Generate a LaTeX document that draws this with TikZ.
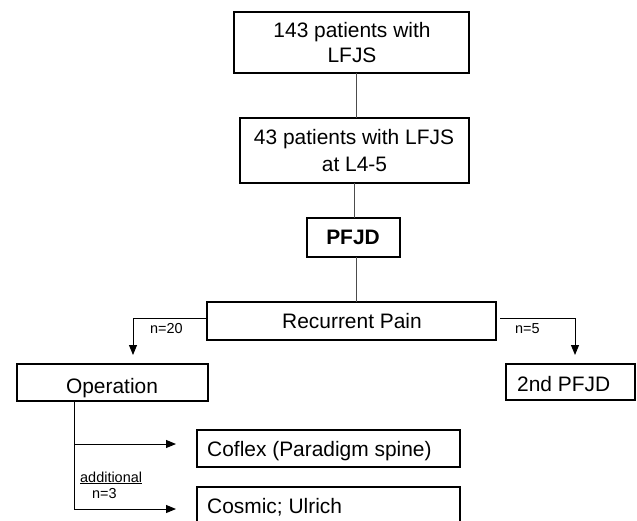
\documentclass[tikz,border=0pt]{standalone}
\usepackage{fontspec}
\setmainfont{Liberation Sans}
\usetikzlibrary{arrows.meta}
\begin{document}
\begin{tikzpicture}[x=1bp,y=-1bp]
\tikzset{
 boxst/.style={draw, line width=2.3bp, inner sep=0pt, outer sep=0pt},
 big/.style={font=\fontsize{21}{25}\selectfont, inner sep=0pt},
 bigb/.style={font=\fontsize{21}{25}\selectfont\bfseries, inner sep=0pt},
 small/.style={font=\fontsize{14.5}{17}\selectfont, inner sep=0pt},
 conn/.style={line width=1bp, draw=black!70},
 arr/.style={line width=1bp, -{Triangle[length=10bp,width=8bp]}},
}
\useasboundingbox (0,0) rectangle (637,521);
\clip (0,0) rectangle (637,521);
% boxes
\node[boxst, minimum width=235bp, minimum height=61bp] (b1) at (351.5,42.5) {};
\node[boxst, minimum width=229bp, minimum height=65bp] (b2) at (354.5,150.5) {};
\node[boxst, minimum width=93bp, minimum height=39bp] (pf) at (353.5,237.5) {};
\node[boxst, minimum width=289bp, minimum height=38bp] (rp) at (351.5,321) {};
\node[boxst, minimum width=191bp, minimum height=37bp] (op) at (112.5,382.5) {};
\node[boxst, minimum width=129bp, minimum height=36bp] (p2) at (570.5,382) {};
\node[boxst, minimum width=263bp, minimum height=37bp] (cf) at (328.5,448.5) {};
\node[boxst, minimum width=263bp, minimum height=37bp] (cs) at (328.5,505.5) {};
% texts
\node[big, anchor=base] (t1a) at (352,38) {143 patients with};
\node[big, anchor=base] (t1b) at (352,63) {LFJS};
\node[big, anchor=base] (t2a) at (354,145) {43 patients with LFJS};
\node[big, anchor=base] (t2b) at (354.5,172) {at L4-5};
\node[bigb, anchor=base] (tpf) at (353,245) {PFJD};
\node[big, anchor=base] (trp) at (352,328) {Recurrent Pain};
\node[big, anchor=base] (top) at (112,393) {Operation};
\node[big, anchor=base west] (tp2) at (517,391) {2nd PFJD};
\node[big, anchor=base west] (tcf) at (207,456) {Coflex (Paradigm spine)};
\node[big, anchor=base west] (tcs) at (207,513) {Cosmic; Ulrich};
\node[small, anchor=base west] (n20) at (150,333) {n=20};
\node[small, anchor=base west] (n5) at (515,333) {n=5};
\node[small, anchor=base west] (add) at (80,482) {\underline{additional}};
\node[small, anchor=base west] (n3) at (92,498) {n=3};
% connectors
\coordinate (c1) at (356,0);
\coordinate (c2) at (354,0);
\draw[conn] (b1.south -| c1) -- (b2.north -| c1);
\draw[conn] (b2.south -| c2) -- (pf.north -| c2);
\draw[conn] (pf.south -| c1) -- (rp.north -| c1);
\coordinate (h20) at (133,318);
\coordinate (a20) at (133,355);
\draw[arr] (rp.west |- h20) -- (h20) -- (a20);
\coordinate (s5) at (500,318);
\coordinate (h5) at (575,318);
\coordinate (a5) at (575,355);
\draw[arr] (s5) -- (h5) -- (a5);
\coordinate (v0) at (74,0);
\coordinate (j1) at (74,444);
\coordinate (j2) at (74,509);
\draw[line width=1bp] (op.south -| v0) -- (j2);
\draw[arr, shorten >=21bp] (j1) -- (j1 -| cf.west);
\draw[arr, shorten >=21bp] (j2) -- (j2 -| cs.west);
\end{tikzpicture}
\end{document}
